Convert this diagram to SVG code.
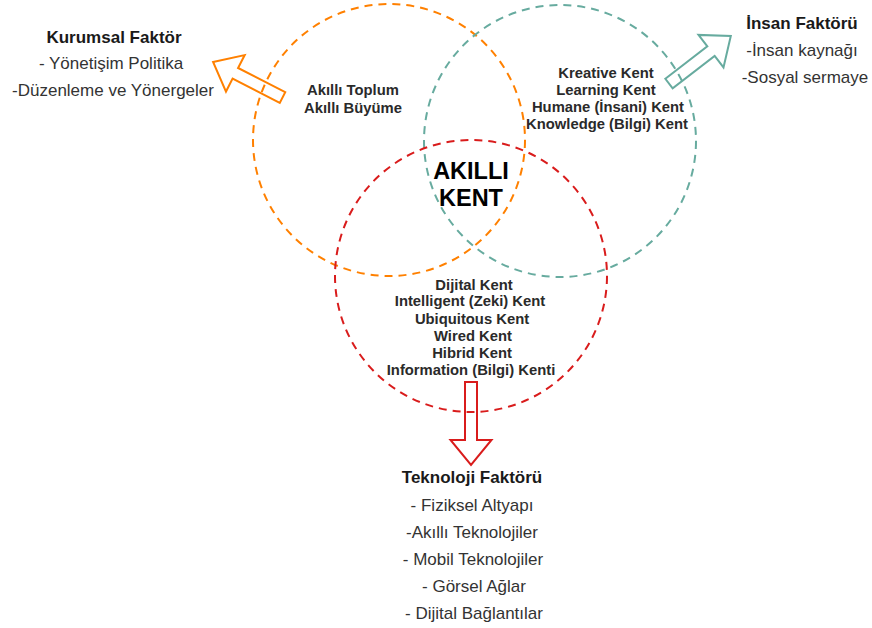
<svg xmlns="http://www.w3.org/2000/svg" width="872" height="628" viewBox="0 0 872 628">
  <defs>
    <style>
      .circ { fill: none; stroke-width: 2; stroke-dasharray: 8 6; }
      .arrow { fill: none; stroke-width: 2; stroke-linejoin: miter; }
      text { font-family: "Liberation Sans", Arial, sans-serif; text-anchor: middle; }
      .ft { font-size: 17px; font-weight: bold; fill: #1a1a1a; }
      .fi { font-size: 17px; fill: #333333; }
      .ct { font-size: 14.8px; font-weight: bold; fill: #2a2a2a; }
      .big { font-size: 23.5px; font-weight: bold; fill: #000000; }
    </style>
  </defs>
  <rect width="872" height="628" fill="#ffffff"/>

  <g id="circle-kurumsal">
    <circle class="circ" cx="389" cy="140" r="136" stroke="#FF8000"/>
  </g>
  <g id="circle-insan">
    <circle class="circ" cx="560" cy="141" r="136" stroke="#67AB9F"/>
  </g>
  <g id="circle-teknoloji">
    <circle class="circ" cx="471" cy="276" r="136" stroke="#D91C1C"/>
  </g>

  <g id="connectors">
    <polygon class="arrow" stroke="#FF8000" transform="translate(282.5,97.5) rotate(207.15)" points="0,-6 53,-6 53,-20.5 78,0 53,20.5 53,6 0,6"/>
    <polygon class="arrow" stroke="#67AB9F" transform="translate(669,83.5) rotate(-37.6)" points="0,-6 53,-6 53,-20.5 78,0 53,20.5 53,6 0,6"/>
    <polygon class="arrow" stroke="#D91C1C" transform="translate(471,382) rotate(90)" points="0,-6 58,-6 58,-20.5 83,0 58,20.5 58,6 0,6"/>
  </g>

  <g id="kurumsal-faktor">
    <text class="ft" x="114" y="43">Kurumsal Faktör</text>
    <text class="fi" x="111" y="69">- Yönetişim Politika</text>
    <text class="fi" x="113" y="96">-Düzenleme ve Yönergeler</text>
  </g>

  <g id="insan-faktoru">
    <text class="ft" x="802" y="29">İnsan Faktörü</text>
    <text class="fi" x="802" y="56">-İnsan kaynağı</text>
    <text class="fi" x="805" y="83">-Sosyal sermaye</text>
  </g>

  <g id="kurumsal-label">
    <text class="ct" x="353" y="95">Akıllı Toplum</text>
    <text class="ct" x="353" y="112.5">Akıllı Büyüme</text>
  </g>

  <g id="insan-label">
    <text class="ct" x="606" y="78">Kreative Kent</text>
    <text class="ct" x="606" y="95">Learning Kent</text>
    <text class="ct" x="608" y="112">Humane (İnsani) Kent</text>
    <text class="ct" x="607" y="129">Knowledge (Bilgi) Kent</text>
  </g>

  <g id="akilli-kent">
    <text class="big" x="471" y="178.5">AKILLI</text>
    <text class="big" x="471" y="206">KENT</text>
  </g>

  <g id="teknoloji-label">
    <text class="ct" x="474" y="289.5">Dijital Kent</text>
    <text class="ct" x="470" y="306">Intelligent (Zeki) Kent</text>
    <text class="ct" x="472" y="323.5">Ubiquitous Kent</text>
    <text class="ct" x="473" y="341">Wired Kent</text>
    <text class="ct" x="472" y="357.5">Hibrid Kent</text>
    <text class="ct" x="471" y="374.5">Information (Bilgi) Kenti</text>
  </g>

  <g id="teknoloji-faktoru">
    <text class="ft" x="472" y="483">Teknoloji Faktörü</text>
    <text class="fi" x="472" y="511">- Fiziksel Altyapı</text>
    <text class="fi" x="472" y="537.5">-Akıllı Teknolojiler</text>
    <text class="fi" x="473" y="564.5">- Mobil Teknolojiler</text>
    <text class="fi" x="474" y="592">- Görsel Ağlar</text>
    <text class="fi" x="474" y="618.5">- Dijital Bağlantılar</text>
  </g>
</svg>
